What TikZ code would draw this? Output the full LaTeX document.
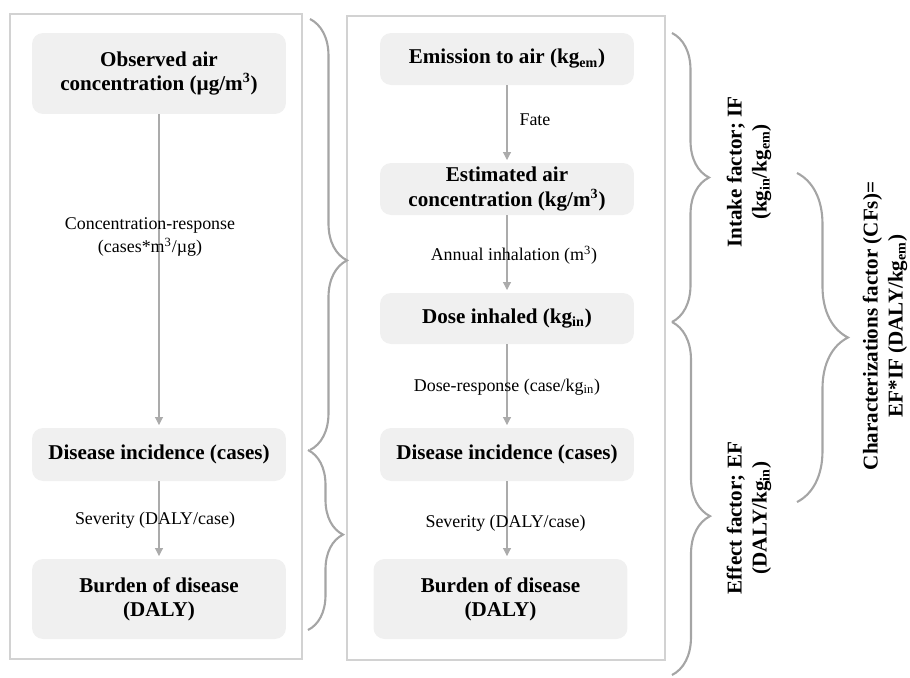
\documentclass[tikz,border=0pt]{standalone}
\usepackage{fontspec}
\setmainfont{Liberation Serif}
\usetikzlibrary{arrows.meta,decorations.pathreplacing}
\definecolor{boxgray}{HTML}{F0F0F0}
\definecolor{panelgray}{HTML}{D2D2D2}
\definecolor{arrowgray}{HTML}{ABABAB}
\definecolor{bracegray}{HTML}{A5A5A5}

\begin{document}
\begin{tikzpicture}[x=0.02cm, y=-0.02cm,
  stage/.style={fill=boxgray, rounded corners=0.22cm, minimum width=5.08cm, inner sep=0pt,
    align=center, font=\fontsize{12}{13.8}\selectfont\bfseries},
  note/.style={align=center, font=\fontsize{10.2}{13}\selectfont},
  flow/.style={draw=arrowgray, line width=0.6pt, -{Triangle[width=4.5pt,length=4.5pt]}, shorten >=1.5pt},
  panel/.style={draw=panelgray, line width=0.8pt},
  curly/.style={draw=bracegray, line width=1.2pt, decorate},
  factor/.style={rotate=90, align=center, font=\fontsize{12}{14.2}\selectfont\bfseries}]
  \useasboundingbox (0,0) rectangle (910,677);
  % two panels
  \draw[panel] (10,14) rectangle (302,659);
  \draw[panel] (347,16) rectangle (665,660);

  % left panel: observed concentration
  \node[stage, minimum height=1.62cm] (obs) at (159,73.5) {Observed air\\concentration (µg/m\textsuperscript{3})};
  \node[stage, minimum height=1.06cm] (inc1) at (159,454.5) {Disease incidence (cases)};
  \node[stage, minimum height=1.6cm] (bod1) at (159,599) {Burden of disease\\(DALY)};
  \draw[flow] (obs) -- (inc1);
  \draw[flow] (inc1) -- (bod1);
  \node[note] (crf) at (150,237) {Concentration-response\\(cases*m\textsuperscript{3}/µg)};
  \node[note] (sev1) at (155,520) {Severity (DALY/case)};

  % right panel: emission to air
  \node[stage, minimum height=1.04cm] (emi) at (507,59) {Emission to air (kg\textsubscript{em})};
  \node[stage, minimum height=1.04cm] (est) at (507,189) {Estimated air\\concentration (kg/m\textsuperscript{3})};
  \node[stage, minimum height=1.02cm] (dose) at (507,318.5) {Dose inhaled (kg\textsubscript{in})};
  \node[stage, minimum height=1.06cm] (inc2) at (507,454.5) {Disease incidence (cases)};
  \node[stage, minimum height=1.6cm] (bod2) at (500.5,599) {Burden of disease\\(DALY)};
  \draw[flow] (emi) -- (est);
  \draw[flow] (est) -- (dose);
  \draw[flow] (dose) -- (inc2);
  \draw[flow] (inc2.south) -- (inc2.south |- bod2.north);
  \node[note] (fate) at (535,120) {Fate};
  \node[note] (inh) at (514,255) {Annual inhalation (m\textsuperscript{3})};
  \node[note] (drf) at (507,387) {Dose-response (case/kg\textsubscript{in})};
  \node[note] (sev2) at (505.5,523) {Severity (DALY/case)};

  % braces
  \draw[curly, decoration={brace, amplitude=0.74cm, aspect=0.56}] (310,19) -- (310,450);
  \draw[curly, decoration={brace, amplitude=0.7cm, aspect=0.47}] (308,450) -- (308,630);
  \draw[curly, decoration={brace, amplitude=0.74cm, aspect=0.5}] (672,33) -- (672,322);
  \draw[curly, decoration={brace, amplitude=0.76cm, aspect=0.55}] (672,322) -- (672,675);
  \draw[curly, decoration={brace, amplitude=1.02cm, aspect=0.5}] (797,173) -- (797,502);

  % factor labels
  \node[factor] (intake) at (749,172) {Intake factor; IF\\(kg\textsubscript{in}/kg\textsubscript{em})};
  \node[factor] (effect) at (749,518) {Effect factor; EF\\(DALY/kg\textsubscript{in})};
  \node[factor] (charf) at (885,326) {Characterizations factor (CFs)=\\EF*IF (DALY/kg\textsubscript{em})};
\end{tikzpicture}
\end{document}
